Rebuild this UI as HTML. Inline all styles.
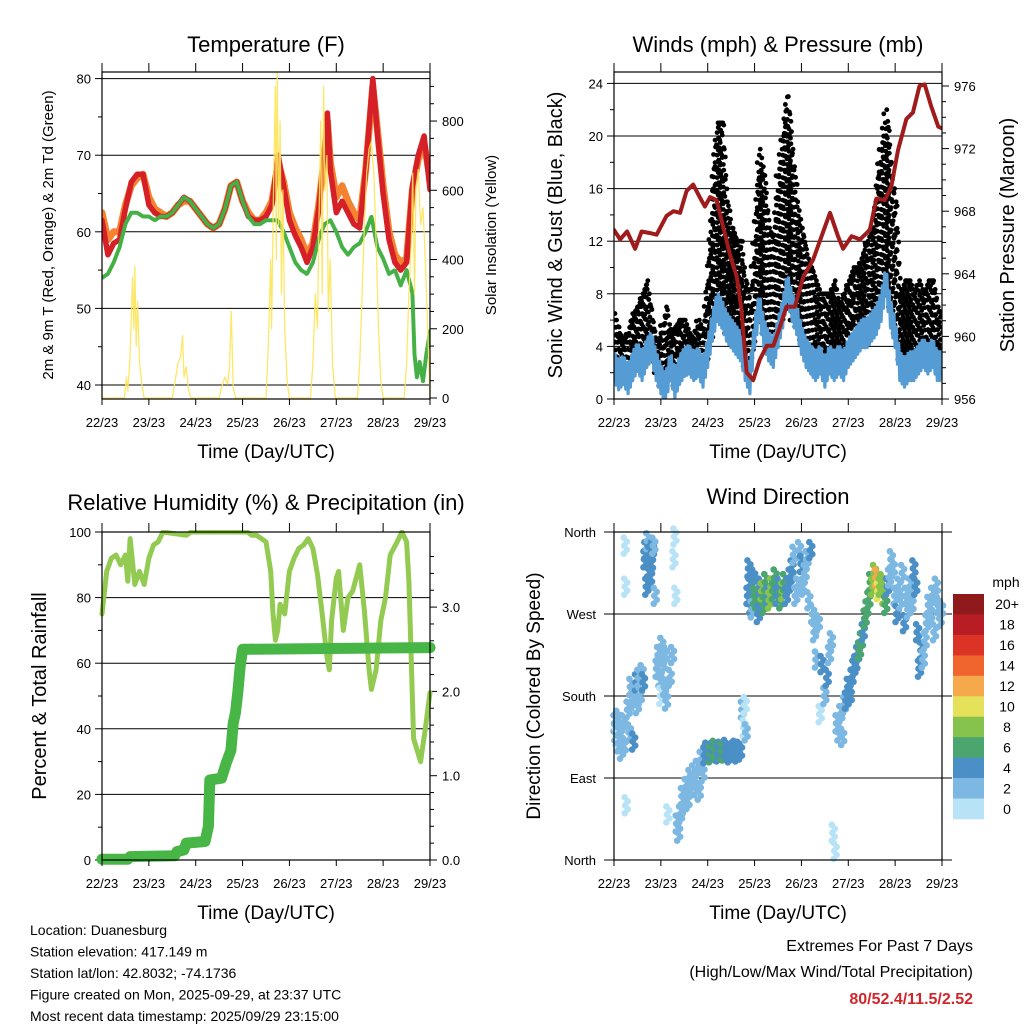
<!DOCTYPE html>
<html><head><meta charset="utf-8"><style>
html,body{margin:0;padding:0;background:#fff}
svg{display:block;font-family:"Liberation Sans",Arial,sans-serif}
</style></head><body>
<svg id="c" width="1024" height="1024" viewBox="0 0 1024 1024"></svg>
<script>
// ---------- DATA ----------
const dayLabels=["22/23","23/23","24/23","25/23","26/23","27/23","28/23","29/23"];
// Temperature (days since start, F)
const tempT=[0,0.125,0.25,0.375,0.5,0.625,0.75,0.875,1,1.125,1.25,1.375,1.5,1.625,1.75,1.875,2,2.125,2.25,2.375,2.5,2.625,2.75,2.875,3,3.125,3.25,3.375,3.5,3.625,3.76,3.875,4,4.125,4.25,4.375,4.5,4.625,4.75,4.81,4.875,5,5.125,5.25,5.375,5.5,5.625,5.78,5.875,6,6.125,6.25,6.375,6.5,6.625,6.75,6.875,7];
const temp2m=[61.5,57,58.5,59,63,66.5,67.5,67.5,63.5,62.5,62,62,62.5,63.5,64.5,64,63,62,61,60.5,61,63,66,66.5,64,62,61.5,61.5,62,63.5,70,66,61.5,59.5,58,56,58,63,70,75.5,68,62.5,64,62.5,61,60.5,68,80,73,65,59,56,55,56,66,70,72.5,65.5];
const temp9m=[62.5,59,60,60,63.5,66,67,67.5,64.5,63,62.5,62,62.5,63.5,64,64,63,62,61,60.5,61,63,66,66.5,64,62.5,61.5,61.5,62.5,64,69,66.5,62.5,60.5,59,57,58.5,63.5,70,74.5,69,64.5,66,64,62.5,61.5,68,79,73.5,66,60,57,56,56.5,65.5,69.5,71.5,67];
const dewT=[0,0.125,0.25,0.375,0.5,0.625,0.75,0.875,1,1.125,1.25,1.375,1.5,1.625,1.75,1.875,2,2.125,2.25,2.375,2.5,2.625,2.75,2.875,3,3.125,3.25,3.375,3.5,3.625,3.75,3.875,4,4.125,4.25,4.375,4.5,4.625,4.75,4.875,5,5.125,5.25,5.375,5.5,5.625,5.75,5.875,6,6.125,6.25,6.375,6.5,6.625,6.67,6.72,6.78,6.85,6.92,7];
const dewV=[54,54.5,56,58,61,62.5,62.5,62,62,61.5,62,62,62.5,63.5,64.5,64,63,62,61,60.5,61,63,66,66.5,64,62,61,61,61.5,61.5,61.5,60,58,56,55,54.5,56,59,61,61.5,60,58,57,58,58.5,60,62,58,56.5,54.5,55,53,55,52,44,41,43,40.5,44,47];
const solarT=[0,0.48,0.52,0.55,0.6,0.65,0.68,0.7,0.73,0.76,0.8,0.85,0.9,1.5,1.55,1.62,1.68,1.72,1.75,1.8,1.85,1.9,2.5,2.55,2.62,2.68,2.72,2.76,2.8,2.85,3.5,3.55,3.6,3.62,3.66,3.7,3.72,3.74,3.77,3.8,3.83,3.86,3.9,3.95,4,4.45,4.5,4.55,4.6,4.63,4.67,4.7,4.73,4.76,4.8,4.83,4.87,4.92,4.98,5.45,5.5,5.55,5.6,5.65,5.7,5.75,5.8,5.85,5.9,5.95,6,6.45,6.5,6.55,6.6,6.63,6.67,6.7,6.75,6.8,6.85,6.9,6.95,7];
const solarV=[0,0,60,20,120,350,200,380,150,280,100,40,0,0,40,100,120,180,60,90,20,0,0,30,60,40,90,250,30,0,0,150,400,200,600,900,400,950,500,800,300,600,200,50,0,0,100,300,200,500,800,300,900,600,700,250,400,100,0,0,100,300,500,650,720,740,650,450,200,50,0,0,100,300,450,650,300,600,660,500,550,400,200,0];
// Winds (mph) & pressure (mb)
const windT=[0,0.1,0.2,0.3,0.4,0.5,0.6,0.7,0.8,0.9,1,1.1,1.2,1.3,1.4,1.5,1.6,1.7,1.8,1.9,2,2.1,2.2,2.3,2.4,2.5,2.6,2.7,2.8,2.9,3,3.1,3.2,3.3,3.4,3.5,3.6,3.7,3.8,3.9,4,4.1,4.2,4.3,4.4,4.5,4.6,4.7,4.8,4.9,5,5.1,5.2,5.3,5.4,5.5,5.6,5.7,5.8,5.9,6,6.1,6.2,6.3,6.4,6.5,6.6,6.7,6.8,6.9,7];
const windMean=[2.5,1.8,2.2,1.5,2.5,3.2,2.5,3.5,4,2.5,1.5,0.8,2.5,1.2,2.2,2.8,3,2.5,2.8,2,3.5,5.5,7,6.5,5.5,5,4.5,4,2.5,1.5,5,7,5,4,3.5,5,6.5,8.5,7,6,4.5,3.5,3,2.5,3,2,3,2.5,3,2.5,3.5,4,4.5,5,5,5.5,6,7,9,6.5,5,2.5,2,2.5,2.5,3,3.5,3,3.5,2.5,2.5];
const gustLo=[2,1.5,2,1.5,2.5,3,2.5,3,3,2,1,0.5,2,1,2,2.5,2.5,2.5,2.5,2,3,5,6,6,5,5,5,4,2.5,2,5,6,5,4.5,4,5,6,7,6,5.5,4.5,4,3.5,3,3,2.5,3,3,3,3,3.5,4,5,5,5,6,6,7,8,7,5,3,3,3,3,3.5,3.5,3,3.5,3,3];
const gustHi=[6.5,5,4.5,5,6.5,7,8,9,6,4,5,7,5,5.5,6,6,5,4.5,6,5,9,16,21,21,15,13,12,12,9,7,12,19,17,13,12,17,20,23,19,15,13,11,10,9,8,8,8,9,7,8,9,10,10,11,12,13,16,19,22,18,15,8,9,9,8,9,8,9,9,7,6];
const presT=[0,0.13,0.28,0.45,0.59,0.77,0.91,1.12,1.27,1.41,1.55,1.69,1.83,1.94,2.05,2.19,2.33,2.47,2.62,2.72,2.83,2.97,3.11,3.26,3.4,3.54,3.68,3.86,4.04,4.25,4.43,4.61,4.78,4.89,5.07,5.25,5.46,5.6,5.78,5.92,6.06,6.24,6.38,6.52,6.63,6.77,6.92,7];
const presV=[966.8,966.2,966.7,965.6,966.7,966.6,966.5,967.7,968,967.9,969.3,969.7,968.9,968.3,968.9,968.7,967,965.3,963.8,961.7,957.7,957.2,958.5,959.4,959.4,960.6,961.9,961.9,963.8,964.9,966.4,967.9,966.4,965.6,966.4,966.2,966.8,968.8,968.7,969.6,971.9,973.9,974.3,976,976.1,974.7,973.4,973.3];
// RH (%) & precipitation (in)
const rhT=[0,0.1,0.2,0.3,0.4,0.5,0.55,0.6,0.7,0.8,0.9,1,1.1,1.2,1.3,1.8,1.9,3.1,3.2,3.3,3.4,3.5,3.6,3.65,3.7,3.75,3.8,3.9,4,4.1,4.2,4.3,4.4,4.5,4.6,4.7,4.8,4.85,4.9,5,5.05,5.15,5.25,5.35,5.5,5.6,5.7,5.75,5.85,5.95,6.05,6.15,6.3,6.4,6.5,6.55,6.65,6.8,6.9,7];
const rhV=[75,88,92,93,90,93,85,98,84,88,84,92,96,97,100,99,100,100,99,99,98,97,88,75,67,70,78,75,88,92,95,96,98,95,87,75,62,58,73,86,88,70,80,82,90,76,58,52,58,73,80,93,97,100,97,85,37,30,40,51];
const rainT=[0,0.55,0.6,1.55,1.6,1.75,1.8,2.2,2.27,2.3,2.55,2.65,2.75,2.8,2.85,2.9,2.95,3,7];
const rainV=[0.01,0.01,0.04,0.05,0.1,0.12,0.2,0.22,0.4,0.95,0.97,1.15,1.3,1.62,1.75,2,2.3,2.5,2.52];
// Wind direction (deg) colored by speed (mph)
const dirT=[0.02,0.04,0.06,0.08,0.10,0.12,0.14,0.16,0.20,0.22,
0.24,0.25,0.26,0.30,0.33,0.36,0.40,0.42,0.45,0.48,
0.50,0.53,0.56,0.60,0.63,0.66,0.68,0.70,0.72,0.74,
0.76,0.78,0.80,0.82,0.85,0.88,0.92,0.95,0.98,1.00,
1.02,1.05,1.08,1.10,1.12,1.15,1.20,1.25,1.28,1.30,
1.32,1.35,1.38,1.42,1.46,1.50,1.54,1.58,1.62,1.66,
1.70,1.74,1.78,1.82,1.86,1.90,1.94,1.98,2.02,2.06,
2.10,2.14,2.18,2.22,2.26,2.30,2.34,2.38,2.42,2.46,
2.50,2.54,2.58,2.62,2.66,2.70,2.74,2.78,2.80,2.82,
2.86,2.88,2.90,2.92,2.95,2.98,3.00,3.04,3.08,3.12,
3.16,3.20,3.24,3.28,3.32,3.36,3.40,3.44,3.48,3.52,
3.56,3.60,3.64,3.68,3.72,3.76,3.80,3.84,3.88,3.92,
3.96,4.00,4.04,4.08,4.12,4.16,4.20,4.24,4.28,4.32,
4.36,4.40,4.44,4.50,4.55,4.60,4.64,4.68,4.72,4.76,
4.80,4.84,4.88,4.92,4.96,5.00,5.04,5.08,5.12,5.16,
5.20,5.24,5.28,5.32,5.36,5.40,5.44,5.48,5.52,5.56,
5.60,5.64,5.68,5.72,5.76,5.80,5.84,5.88,5.92,5.96,
6.00,6.04,6.08,6.12,6.16,6.20,6.24,6.28,6.32,6.36,
6.40,6.44,6.48,6.52,6.56,6.60,6.64,6.68,6.72,6.76,
6.80,6.84,6.88,6.92,6.96,6.99];
const dirV=[150,140,135,155,128,145,130,120,150,125,
345,300,60,165,140,190,175,130,185,195,
170,200,180,205,195,330,340,300,350,320,
335,310,325,340,345,290,210,225,200,180,
235,215,190,225,175,50,200,225,330,355,
290,40,30,50,70,60,80,65,90,85,
95,80,100,75,110,95,115,120,118,116,
120,122,118,117,121,119,118,123,120,116,
118,120,122,117,121,119,165,145,170,140,
290,320,300,280,275,310,290,285,270,300,
295,280,305,290,285,300,295,310,290,300,
285,295,305,290,300,310,320,335,290,300,
340,325,300,315,330,285,340,270,250,220,
260,160,215,180,200,225,240,30,10,150,
140,160,135,170,175,190,180,200,210,215,
225,230,240,250,265,275,285,305,300,315,
310,295,300,305,290,280,300,310,330,320,
290,270,300,285,315,260,290,275,300,280,
320,300,250,210,230,220,240,260,280,270,
290,250,300,280,265,275];
const dirS=[2,2,1,2,3,2,2,3,2,2,
1,1,1,2,3,3,3,4,3,4,
3,3,2,3,4,4,4,4,3,4,
4,5,4,4,3,2,2,2,2,1,
2,2,3,2,2,1,2,2,1,1,
1,2,2,2,2,2,2,3,2,2,
2,3,2,2,3,2,4,4,5,7,
5,7,6,5,4,7,6,5,4,5,
4,4,5,4,4,4,2,1,1,2,
4,4,5,4,3,5,6,7,4,5,
8,6,7,5,8,9,7,6,4,5,
7,8,6,5,5,4,4,3,2,2,
3,4,3,2,2,3,4,2,2,2,
2,1,4,3,4,3,3,1,1,2,
2,2,2,2,4,4,4,5,4,4,
5,6,6,5,6,7,6,7,8,9,
12,10,9,8,8,7,4,2,3,2,
2,4,2,3,2,4,2,2,2,3,
4,4,4,5,4,3,2,3,2,3,
2,2,3,2,2,2];
const cbLabels=["20+","18","16","14","12","10","8","6","4","2","0"];
const cbColors=["#8e1a1b","#b81d24","#dc3327","#f0642e","#f6a94a","#e6e15a","#86c34c","#4aa56e","#4a8fc6","#7db8e2","#b8e3f7"];

// ---------- DRAWING ----------
const NS="http://www.w3.org/2000/svg";
const svg=document.getElementById('c');
function mk(tag,attrs,parent){const e=document.createElementNS(NS,tag);for(const k in attrs)e.setAttribute(k,attrs[k]);(parent||svg).appendChild(e);return e;}
function txt(s,x,y,size,anchor,parent,extra){const e=mk('text',Object.assign({x:x,y:y,'font-size':size,'text-anchor':anchor||'middle',fill:'#000'},extra||{}),parent);e.textContent=s;return e;}
function grp(name){const g=mk('g',{});return g;}
function poly(pts,attrs,parent){return mk('polyline',Object.assign({points:pts.map(p=>p[0].toFixed(1)+','+p[1].toFixed(1)).join(' '),fill:'none','stroke-linejoin':'round','stroke-linecap':'round'},attrs),parent);}

function frame(g,X0,X1,Y0,Y1){
  mk('rect',{x:X0,y:Y0,width:X1-X0,height:Y1-Y0,fill:'none',stroke:'#000','stroke-width':1.2},g);
  for(let d=0;d<=7;d++){const x=X0+(X1-X0)*d/7;
    mk('line',{x1:x,y1:Y1,x2:x,y2:Y1+6,stroke:'#000'},g);
    mk('line',{x1:x,y1:Y0,x2:x,y2:Y0-9,stroke:'#000'},g);
    const t=txt(dayLabels[d],x,Y1+28,13,'middle',g);
    }
  const xt=txt('Time (Day/UTC)',(X0+X1)/2,Y1+59,19,'middle',g);
  
}
function title(s,x,y,name){const t=txt(s,x,y,22,'middle');}
function vtitle(s,x,y,size,name){const t=txt(s,x,y,size,'middle',svg,{transform:'rotate(-90 '+x+' '+y+')'});}

// ===== Panel 1: Temperature =====
(function(){
 const X0=102,X1=430,Y0=72,Y1=399;
 const g=grp('temperature-panel');
 const xs=d=>X0+(X1-X0)*d/7, yT=f=>385-(f-40)*7.66, yS=v=>398-v*0.3462;
 [40,50,60,70,80].forEach(v=>{mk('line',{x1:X0,y1:yT(v),x2:X1,y2:yT(v),stroke:'#000'},g);mk('line',{x1:X0-7,y1:yT(v),x2:X0,y2:yT(v),stroke:'#000'},g);const t=txt(String(v),X0-11,yT(v)+5,13,'end',g);});
 [45,55,65,75].forEach(v=>mk('line',{x1:X0-4,y1:yT(v),x2:X0,y2:yT(v),stroke:'#000'},g));
 for(let v=0;v<=900;v+=50){const y=yS(v);if(y<Y0)break;mk('line',{x1:X1,y1:y,x2:X1+(v%200==0?7:4),y2:y,stroke:'#000'},g);if(v%200==0){const t=txt(String(v),X1+12,y+5,13,'start',g);}}
 const cp=mk('clipPath',{id:'cp1'},g);mk('rect',{x:X0,y:Y0,width:X1-X0,height:Y1-Y0},cp);
 const d=mk('g',{'clip-path':'url(#cp1)'},g);
 const l9=poly(tempT.map((t,i)=>[xs(t),yT(temp9m[i])]),{stroke:'#f58231','stroke-width':7},d);
 const l2=poly(tempT.map((t,i)=>[xs(t),yT(temp2m[i])]),{stroke:'#d62027','stroke-width':5.5},d);
 const ld=poly(dewT.map((t,i)=>[xs(t),yT(dewV[i])]),{stroke:'#45b045','stroke-width':4,'stroke-dasharray':'3 1.5'},d);
 const ls=poly(solarT.map((t,i)=>[xs(t),yS(solarV[i])]),{stroke:'#fde458','stroke-width':1.3,opacity:0.9},d);
 frame(g,X0,X1,Y0,Y1);
 title('Temperature (F)',266,52,'temperature-title');
 vtitle('2m & 9m T (Red, Orange) & 2m Td (Green)',53,235,15,'temperature-y-title');
 vtitle('Solar Insolation (Yellow)',496,235,15,'solar-y-title');
})();

// ===== Panel 2: Winds & Pressure =====
(function(){
 const X0=614,X1=942,Y0=72,Y1=399;
 const g=grp('winds-panel');
 const xs=d=>X0+(X1-X0)*d/7, yW=w=>399-w*13.15, yP=p=>399-(p-956)*15.65;
 for(let v=0;v<=24;v+=4){const y=yW(v);mk('line',{x1:X0,y1:y,x2:X1,y2:y,stroke:'#000'},g);mk('line',{x1:X0-7,y1:y,x2:X0,y2:y,stroke:'#000'},g);const t=txt(String(v),X0-11,y+5,13,'end',g);}
 for(let v=2;v<24;v+=4)mk('line',{x1:X0-4,y1:yW(v),x2:X0,y2:yW(v),stroke:'#000'},g);
 for(let p=956;p<=976;p++){const y=yP(p);mk('line',{x1:X1,y1:y,x2:X1+((p-956)%4==0?7:4),y2:y,stroke:'#000'},g);if((p-956)%4==0){const t=txt(String(p),X1+12,y+5,13,'start',g);}}
 const cp=mk('clipPath',{id:'cp2'},g);mk('rect',{x:X0,y:Y0,width:X1-X0,height:Y1-Y0},cp);
 const d=mk('g',{'clip-path':'url(#cp2)'},g);
 const gg=mk('g',{},d);
 for(let i=0;i<windT.length-1;i++){
   for(let s=0;s<3;s++){const f=s/3;const t=windT[i]+(windT[i+1]-windT[i])*f;
     const lo=gustLo[i]+(gustLo[i+1]-gustLo[i])*f, hi=gustHi[i]+(gustHi[i+1]-gustHi[i])*f;
     const ya=yW(hi), yb=yW(lo);let k=s;
     for(let y=yb-s*2.5;y>=ya;y-=7.5){mk('circle',{cx:xs(t)+((k%3)-1)*2,cy:y,r:2.4,fill:'#000'},gg);k++;}
     mk('circle',{cx:xs(t)+1,cy:ya,r:2.4,fill:'#000'},gg);}
 }
 const wp=[];
 for(let i=0;i<windT.length-1;i++){for(let s=0;s<4;s++){const f=s/4;const t=windT[i]+(windT[i+1]-windT[i])*f;const m=windMean[i]+(windMean[i+1]-windMean[i])*f;wp.push([xs(t),yW(Math.max(0,m+(s%2?1.1:-1.1)))]);}}
 wp.push([xs(windT[windT.length-1]),yW(windMean[windMean.length-1])]);
 const lw=poly(wp,{stroke:'#559bd4','stroke-width':3.2},d);
 const lp=poly(presT.map((t,i)=>[xs(t),yP(presV[i])]),{stroke:'#a01c1c','stroke-width':4},d);
 frame(g,X0,X1,Y0,Y1);
 title('Winds (mph) & Pressure (mb)',778,52,'winds-title');
 vtitle('Sonic Wind & Gust (Blue, Black)',562,235,20,'wind-y-title');
 vtitle('Station Pressure (Maroon)',1014,235,20,'pressure-y-title');
})();

// ===== Panel 3: RH & Precip =====
(function(){
 const X0=102,X1=430,Y0=532,Y1=860;
 const g=grp('humidity-panel');
 const xs=d=>X0+(X1-X0)*d/7, yR=v=>860-v*3.28, yP=v=>860-v*84.3;
 for(let v=0;v<=100;v+=20){const y=yR(v);mk('line',{x1:X0,y1:y,x2:X1,y2:y,stroke:'#000'},g);mk('line',{x1:X0-7,y1:y,x2:X0,y2:y,stroke:'#000'},g);const t=txt(String(v),X0-11,y+5,13,'end',g);}
 for(let v=10;v<100;v+=20)mk('line',{x1:X0-4,y1:yR(v),x2:X0,y2:yR(v),stroke:'#000'},g);
 for(let v=0;v<=3.8;v+=0.2){const y=yP(v);const maj=Math.abs(v-Math.round(v))<0.01;mk('line',{x1:X1,y1:y,x2:X1+(maj?7:4),y2:y,stroke:'#000'},g);if(maj){const t=txt(Math.round(v).toFixed(1),X1+12,y+5,13,'start',g);}}
 const cp=mk('clipPath',{id:'cp3'},g);mk('rect',{x:X0-8,y:Y0-2,width:X1-X0+16,height:Y1-Y0+10},cp);
 const d=mk('g',{'clip-path':'url(#cp3)'},g);
 const lr=poly(rhT.map((t,i)=>[xs(t),yR(rhV[i])]),{stroke:'#93cb52','stroke-width':5},d);
 const lp=poly(rainT.map((t,i)=>[xs(t),yP(rainV[i])]),{stroke:'#48b547','stroke-width':11},d);
 frame(g,X0,X1,Y0,Y1);
 title('Relative Humidity (%) & Precipitation (in)',266,510,'humidity-title');
 vtitle('Percent & Total Rainfall',46,696,20,'humidity-y-title');
})();

// ===== Panel 4: Wind direction =====
(function(){
 const X0=614,X1=942,Y0=532,Y1=860;
 const g=grp('wind-direction-panel');
 const xs=d=>X0+(X1-X0)*d/7, yD=v=>860-v*0.9111;
 const names=["North","East","South","West","North"];
 names.forEach((n,i)=>{const y=yD(i*90);mk('line',{x1:X0-10,y1:y,x2:X1+10,y2:y,stroke:'#000'},g);const t=txt(n,X0-18,y+5,13,'end',g);});
 const col=s=>cbColors[10-Math.min(10,Math.floor(s/2))];
 const pg=mk('g',{},g);
 const n=Math.min(dirT.length,dirV.length,dirS.length);
 for(let i=0;i<n;i++){
   [[-1.5,-8],[1.5,-4],[-1,0],[1.5,4],[-1.5,8]].forEach(o=>{mk('circle',{cx:xs(dirT[i])+o[0],cy:yD(dirV[i])+o[1],r:3.3,fill:col(dirS[i])},pg);});
 }
 mk('rect',{x:X0,y:Y0,width:X1-X0,height:Y1-Y0,fill:'none',stroke:'#000','stroke-width':1.2},g);
 for(let d=0;d<=7;d++){const x=X0+(X1-X0)*d/7;mk('line',{x1:x,y1:Y1,x2:x,y2:Y1+6,stroke:'#000'},g);mk('line',{x1:x,y1:Y0,x2:x,y2:Y0-9,stroke:'#000'},g);const t=txt(dayLabels[d],x,Y1+28,13,'middle',g);}
 const xt=txt('Time (Day/UTC)',778,Y1+59,19,'middle',g);
 title('Wind Direction',778,504,'wind-direction-title');
 vtitle('Direction (Colored By Speed)',540,696,19,'direction-y-title');
 const cb=grp('speed-colorbar');
 const bh=225/11;
 cbColors.forEach((c,i)=>{mk('rect',{x:953,y:594+i*bh,width:31,height:bh+0.3,fill:c},cb);const t=txt(cbLabels[i],1007,594+i*bh+bh/2+5,14,'middle',cb);});
 const mu=txt('mph',1006,587,14,'middle',cb);
})();

// ===== Footer text =====
(function(){
 const g=grp('station-info');
 ["Location: Duanesburg","Station elevation: 417.149 m","Station lat/lon: 42.8032; -74.1736","Figure created on Mon, 2025-09-29, at 23:37 UTC","Most recent data timestamp: 2025/09/29 23:15:00"].forEach((s,i)=>{txt(s,30,935+i*21.5,14,'start',g);});
 const r=grp('extremes-summary');
 txt('Extremes For Past 7 Days',973,951,16,'end',r);
 txt('(High/Low/Max Wind/Total Precipitation)',973,977,16,'end',r);
 txt('80/52.4/11.5/2.52',973,1004,16,'end',r,{fill:'#d0262b','font-weight':'bold'});
})();
</script>
</body></html>
